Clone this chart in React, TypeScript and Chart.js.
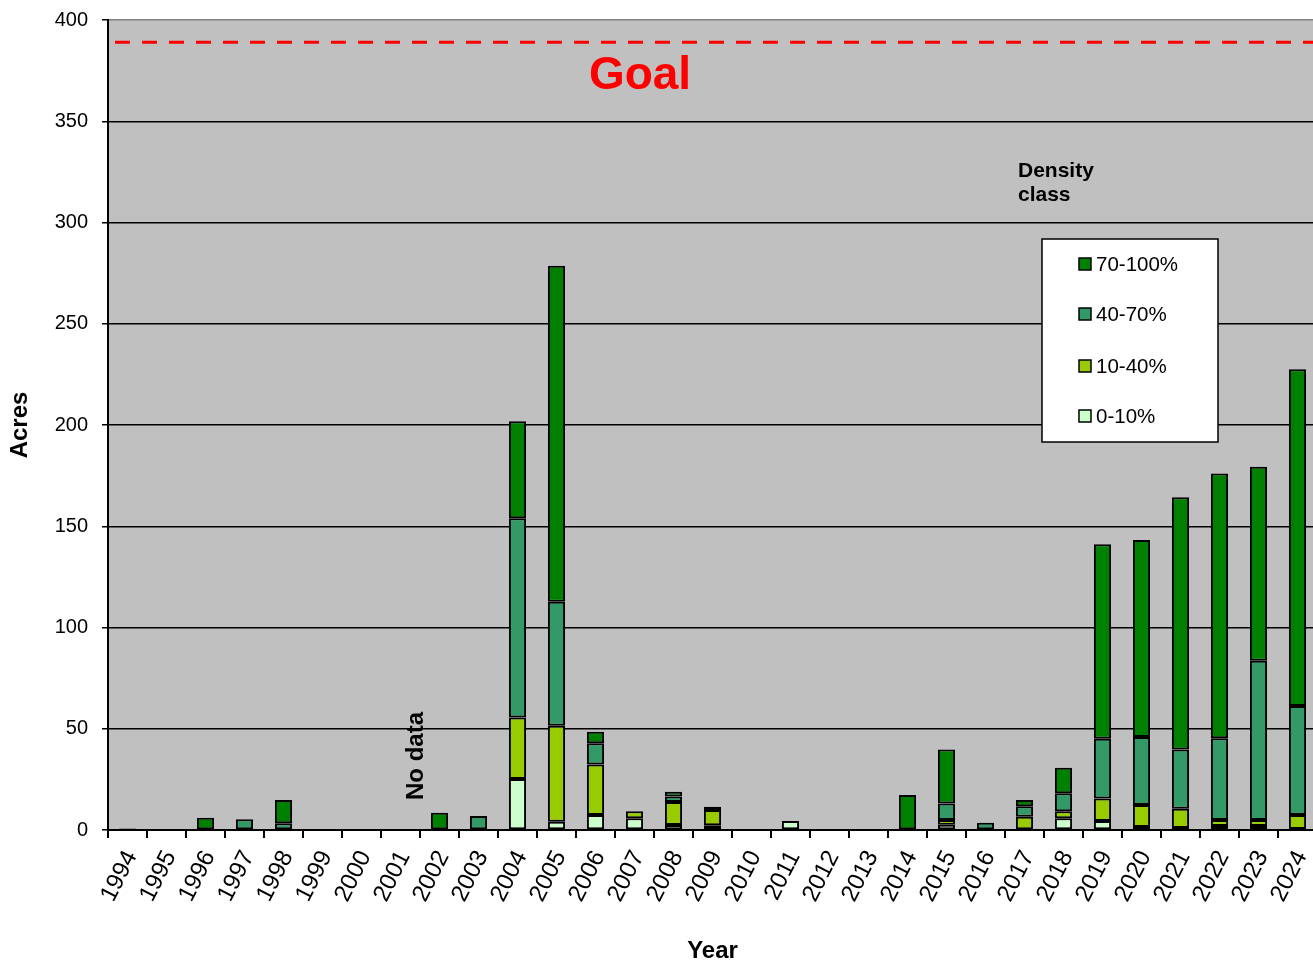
import React, { useEffect, useRef } from "react";
import { Chart, registerables } from "chart.js";

Chart.register(...registerables);

const years: string[] = [
  "1994", "1995", "1996", "1997", "1998", "1999", "2000", "2001", "2002", "2003",
  "2004", "2005", "2006", "2007", "2008", "2009", "2010", "2011", "2012", "2013",
  "2014", "2015", "2016", "2017", "2018", "2019", "2020", "2021", "2022", "2023", "2024",
];

// 0-10% density
const d0to10: (number | null)[] = [
  null, null, null, null, null, null, null, null, null, null,
  25.2, 4.1, 7.4, 5.8, 2.5, 2.3, null, 4.4, null, null,
  null, 2.6, null, null, 5.8, 4.4, 1.5, 1, 2, 2, 0.5,
];
// 10-40% density
const d10to40: (number | null)[] = [
  null, null, null, null, null, null, null, null, null, null,
  30.3, 47.4, 25, 3.4, 11.3, 7.6, null, null, null, null,
  null, 2.3, null, 6.6, 3.4, 11.1, 10.8, 9.5, 2.9, 2.9, 6.9,
];
// 40-70% density
const d40to70: (number | null)[] = [
  null, null, null, 5.3, 3.3, null, null, null, null, 6.9,
  98.4, 61.2, 10.4, null, 2.7, null, null, null, null, null,
  null, 8.2, 3.6, 5.1, 8.9, 29.6, 33.6, 29.3, 40.4, 78.7, 53.8,
];
// 70-100% density
const d70to100: (number | null)[] = [
  0.8, null, 6.1, null, 11.5, null, null, null, 8.5, null,
  48, 166, 5.7, null, 2.4, 1.6, null, null, null, null,
  17.3, 26.7, null, 3.1, 12.7, 96, 97.3, 124.5, 130.8, 95.8, 166.3,
];

const seriesLabels = ["0-10%", "10-40%", "40-70%", "70-100%"];
const seriesColors = ["#CCFFCC", "#99CC00", "#339966", "#008000"];
const goalValue = 389;
const yTicksMax = 400;
const yTicksStep = 50;

const FONT = "'Liberation Sans', Arial, Helvetica, sans-serif";

const overlayPlugin = {
  id: "overlay",
  beforeDraw(chart: any) {
    const { ctx, chartArea } = chart;
    ctx.save();
    ctx.fillStyle = "#C0C0C0";
    ctx.fillRect(chartArea.left, chartArea.top, chartArea.right - chartArea.left, chartArea.bottom - chartArea.top);
    ctx.restore();
  },
  afterDatasetsDraw(chart: any) {
    const { ctx, chartArea, scales } = chart;
    const y = scales.y;
    const x = scales.x;
    ctx.save();
    // Goal line
    const gy = y.getPixelForValue(goalValue);
    ctx.strokeStyle = "#FF0000";
    ctx.lineWidth = 3;
    ctx.setLineDash([15, 12]);
    ctx.beginPath();
    ctx.moveTo(chartArea.left + 7, gy);
    ctx.lineTo(chartArea.right, gy);
    ctx.stroke();
    ctx.setLineDash([]);
    // Goal text
    ctx.fillStyle = "#FF0000";
    ctx.font = `bold 46px ${FONT}`;
    ctx.textAlign = "center";
    ctx.textBaseline = "alphabetic";
    ctx.fillText("Goal", 640, gy + 47);
    // No data
    ctx.save();
    const nx = x.getPixelForValue(7) + 16;
    ctx.translate(nx, 756);
    ctx.rotate(-Math.PI / 2);
    ctx.fillStyle = "#000";
    ctx.font = `bold 24px ${FONT}`;
    ctx.textAlign = "center";
    ctx.textBaseline = "middle";
    ctx.fillText("No data", 0, 0);
    ctx.restore();
    // Density class
    ctx.fillStyle = "#000";
    ctx.font = `bold 21px ${FONT}`;
    ctx.textAlign = "left";
    ctx.textBaseline = "alphabetic";
    ctx.fillText("Density", 1018, 177);
    ctx.fillText("class", 1018, 201);
    // Legend box
    ctx.fillStyle = "#FFFFFF";
    ctx.fillRect(1042, 239, 176, 203);
    ctx.strokeStyle = "#000";
    ctx.lineWidth = 1.5;
    ctx.strokeRect(1042, 239, 176, 203);
    const rows = [264, 314, 366, 416];
    for (let i = 0; i < 4; i++) {
      const si = 3 - i;
      const cy = rows[i];
      ctx.fillStyle = seriesColors[si];
      ctx.fillRect(1079, cy - 6, 12, 12);
      ctx.strokeStyle = "#000";
      ctx.lineWidth = 1.5;
      ctx.strokeRect(1079, cy - 6, 12, 12);
      ctx.fillStyle = "#000";
      ctx.font = `20.5px ${FONT}`;
      ctx.textAlign = "left";
      ctx.textBaseline = "middle";
      ctx.fillText(seriesLabels[si], 1096, cy + 1);
    }
    ctx.restore();
  },
};

export default function App() {
  const canvasRef = useRef<HTMLCanvasElement | null>(null);

  useEffect(() => {
    document.body.style.margin = "0";
    const canvas = canvasRef.current;
    if (!canvas) return;
    const datasets = [d0to10, d10to40, d40to70, d70to100].map((d, i) => ({
      label: seriesLabels[i],
      data: d,
      backgroundColor: seriesColors[i],
      borderColor: "#000000",
      borderWidth: 2,
      borderSkipped: false as any,
      barPercentage: 0.44,
      categoryPercentage: 1,
    }));
    const chart = new Chart(canvas, {
      type: "bar",
      data: { labels: years, datasets },
      options: {
        responsive: false,
        animation: false,
        devicePixelRatio: 1,
        layout: { padding: { top: 20, left: 0, right: 0, bottom: 0 } },
        plugins: { legend: { display: false }, tooltip: { enabled: false } },
        scales: {
          x: {
            stacked: true,
            offset: true,
            afterFit: (s: any) => {
              s.height = 131;
              s.paddingLeft = 0;
              s.paddingRight = 0;
            },
            grid: { offset: true, drawOnChartArea: false, drawTicks: true, tickLength: 8, color: "#000", lineWidth: 2 },
            border: { display: true, color: "#000", width: 2 },
            ticks: {
              minRotation: 63,
              maxRotation: 63,
              autoSkip: false,
              padding: 8,
              labelOffset: 4,
              color: "#000",
              font: { family: FONT, size: 24 },
            },
            title: {
              display: true,
              text: "Year",
              color: "#000",
              font: { family: FONT, size: 24, weight: "bold", lineHeight: 0.8 },
              padding: { top: 0, bottom: 0 },
            },
          },
          y: {
            stacked: true,
            min: 0,
            max: yTicksMax,
            afterFit: (s: any) => {
              s.width = 108;
              s.paddingTop = 0;
              s.paddingBottom = 0;
            },
            grid: {
              color: (c: any) => (c.tick && c.tick.value === yTicksMax ? "#808080" : "#000"),
              tickColor: "#000",
              lineWidth: 1.5,
              tickLength: 6,
            },
            border: { display: true, color: "#000", width: 2 },
            ticks: {
              stepSize: yTicksStep,
              padding: 14,
              color: "#000",
              font: { family: FONT, size: 20 },
            },
            title: {
              display: true,
              text: "Acres",
              color: "#000",
              font: { family: FONT, size: 24, weight: "bold", lineHeight: 1 },
              padding: { top: 8, bottom: 0 },
            },
          },
        },
      },
      plugins: [overlayPlugin],
    });
    return () => chart.destroy();
  }, []);

  return (
    <div style={{ position: "absolute", left: 0, top: 0, width: 1313, height: 961, overflow: "hidden" }}>
      <canvas ref={canvasRef} width={1317} height={961} style={{ display: "block" }} />
    </div>
  );
}
